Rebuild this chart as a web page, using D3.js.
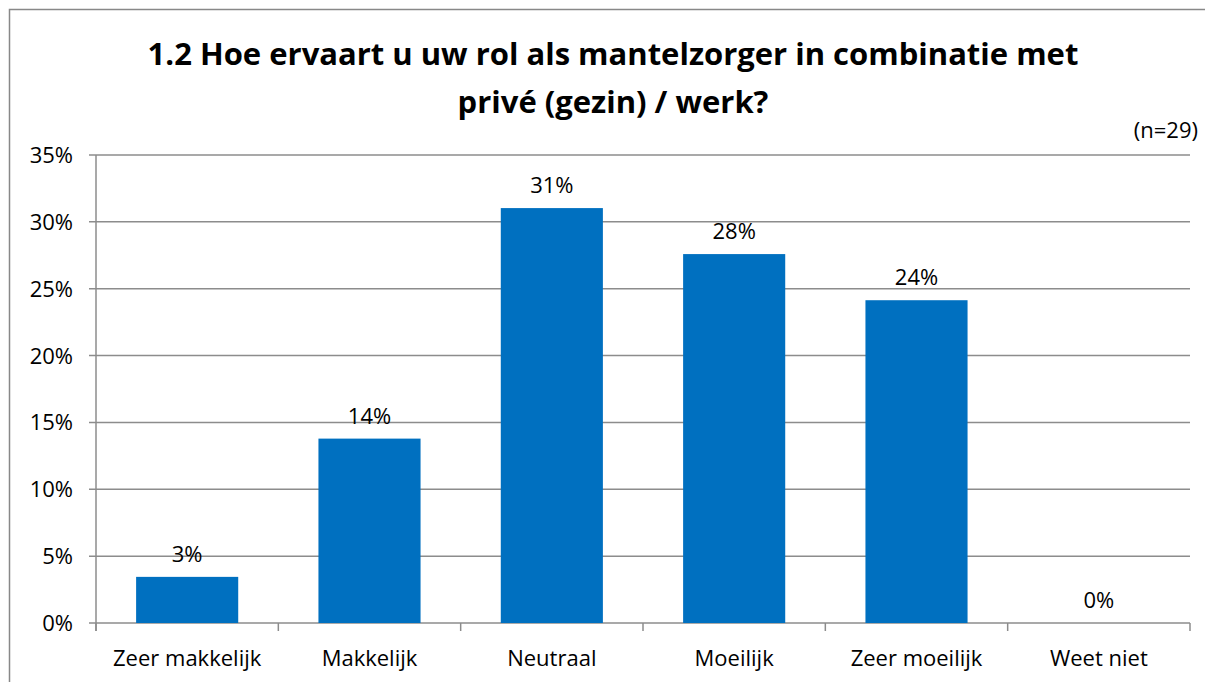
<!DOCTYPE html>
<html><head><meta charset="utf-8">
<script src="https://cdn.jsdelivr.net/npm/d3@7"></script>
<style>body{margin:0;background:#fff;} svg{display:block;}</style>
</head><body>
<svg id="c" width="1205" height="682"></svg>
<script>
const categories = ["Zeer makkelijk","Makkelijk","Neutraal","Moeilijk","Zeer moeilijk","Weet niet"];
const values = [0.0345, 0.1379, 0.3103, 0.2759, 0.2414, 0];
const dataLabels = ["3%","14%","31%","28%","24%","0%"];
const yTicks = [0,0.05,0.10,0.15,0.20,0.25,0.30,0.35];
const titleLines = ["1.2 Hoe ervaart u uw rol als mantelzorger in combinatie met","privé (gezin) / werk?"];
const note = "(n=29)";

const font = "'Open Sans', sans-serif";
const fs = 22;
const svg = d3.select("#c");
svg.append("rect").attr("x",9.5).attr("y",9.5).attr("width",1250).attr("height",700)
  .attr("fill","#fff").attr("stroke","#888").attr("stroke-width",1.5);

const L=96, R=1190, T=155, B=623;
const x = d3.scaleBand().domain(categories).range([L,R]).paddingInner(0.44).paddingOuter(0.22);
const xEdge = d3.scaleLinear().domain([0,categories.length]).range([L,R]);
const y = d3.scaleLinear().domain([0,0.35]).range([B,T]);

// gridlines
svg.append("g").selectAll("line").data(yTicks).join("line")
  .attr("x1",L-7).attr("x2",R).attr("y1",d=>y(d)).attr("y2",d=>y(d))
  .attr("stroke","#8c8c8c").attr("stroke-width",1.5);
// y axis line
svg.append("line").attr("x1",L).attr("x2",L).attr("y1",T).attr("y2",B+8).attr("stroke","#8c8c8c").attr("stroke-width",1.5);
// x ticks
svg.append("g").selectAll("line").data(d3.range(categories.length+1)).join("line")
  .attr("x1",d=>xEdge(d)).attr("x2",d=>xEdge(d)).attr("y1",B).attr("y2",B+8)
  .attr("stroke","#8c8c8c").attr("stroke-width",1.5);

// y labels
svg.append("g").selectAll("text").data(yTicks).join("text")
  .attr("x",73).attr("y",d=>y(d)+8).attr("text-anchor","end")
  .attr("font-family",font).attr("font-size",fs).attr("fill","#000")
  .text(d=>d3.format(".0%")(d));

// bars
svg.append("g").selectAll("rect").data(values).join("rect")
  .attr("x",(d,i)=>x(categories[i])).attr("width",x.bandwidth())
  .attr("y",d=>y(d)).attr("height",d=>B-y(d)).attr("fill","#0070C0");

// data labels
svg.append("g").selectAll("text").data(values).join("text")
  .attr("x",(d,i)=>x(categories[i])+x.bandwidth()/2).attr("y",d=>y(d)-15)
  .attr("text-anchor","middle").attr("font-family",font).attr("font-size",fs).attr("fill","#000")
  .text((d,i)=>dataLabels[i]);

// x labels
svg.append("g").selectAll("text").data(categories).join("text")
  .attr("x",d=>x(d)+x.bandwidth()/2).attr("y",666)
  .attr("text-anchor","middle").attr("font-family",font).attr("font-size",fs).attr("fill","#000")
  .text(d=>d);

// title
svg.append("g").selectAll("text").data(titleLines).join("text")
  .attr("x",613).attr("y",(d,i)=>65+i*48).attr("text-anchor","middle")
  .attr("font-family",font).attr("font-weight","bold").attr("font-size",31).attr("fill","#000")
  .text(d=>d);

svg.append("text").attr("x",1198).attr("y",138).attr("text-anchor","end")
  .attr("font-family",font).attr("font-size",fs).attr("fill","#000").text(note);
</script>
</body></html>
